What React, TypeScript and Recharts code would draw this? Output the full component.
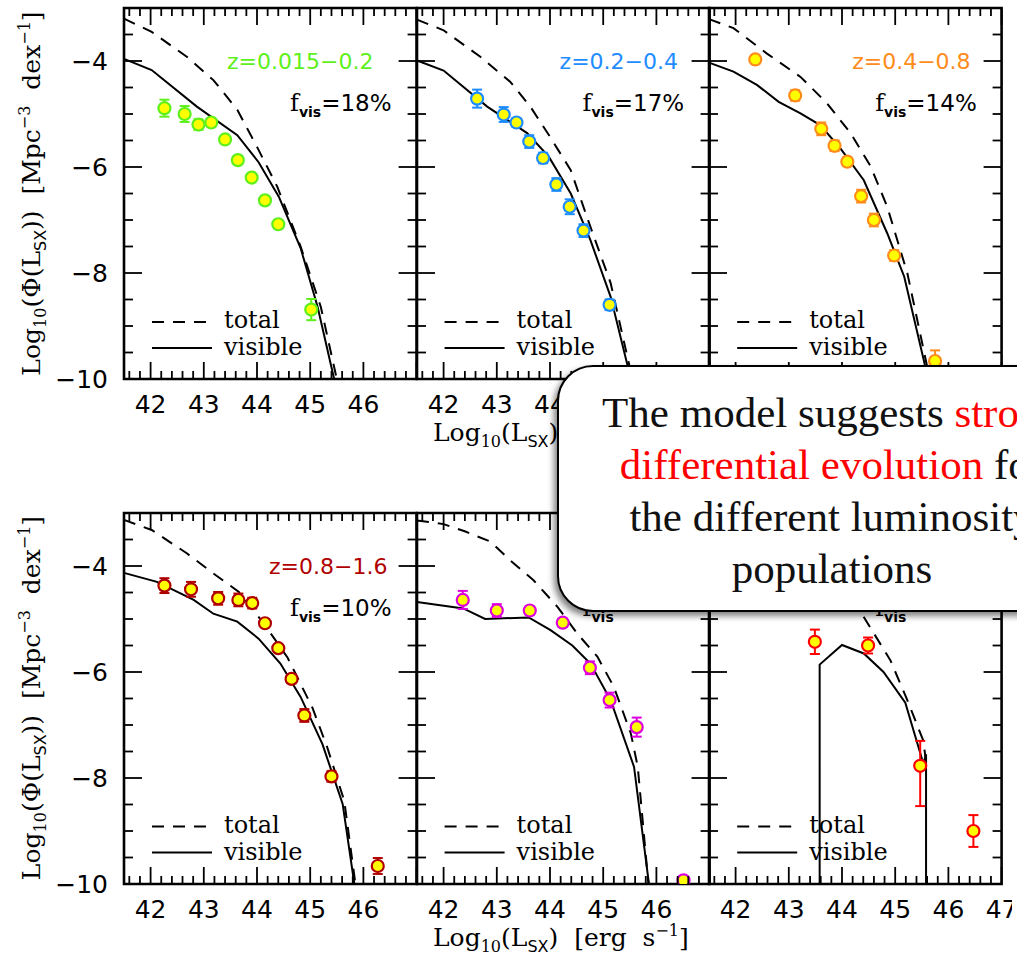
import { ComposedChart, Line, Scatter, ErrorBar, XAxis, YAxis, ReferenceArea } from 'recharts'

type Obs = [number, number, number | [number, number]]
type Pt = [number, number]

// binned luminosity function: [log Lsx, log phi, error (sym or [lower, upper])]
const obsZ1: Obs[] = [
  [42.26, -4.89, 0.16], [42.64, -5.0, 0.15], [42.9, -5.2, 0.1], [43.14, -5.16, 0.06],
  [43.4, -5.48, 0.06], [43.64, -5.87, 0.06], [43.9, -6.2, 0.06], [44.15, -6.63, 0.08],
  [44.4, -7.08, 0.08], [45.02, -8.69, 0.2],
]
const obsZ2: Obs[] = [
  [42.63, -4.71, 0.17], [43.13, -5.01, 0.14], [43.37, -5.16, 0.08], [43.61, -5.52, 0.12],
  [43.87, -5.83, 0.1], [44.12, -6.33, 0.12], [44.37, -6.75, 0.14], [44.63, -7.2, 0.12],
  [45.12, -8.6, 0.1],
]
const obsZ3: Obs[] = [
  [42.37, -3.97, 0.08], [43.12, -4.65, 0.1], [43.61, -5.28, 0.12], [43.86, -5.6, 0.1],
  [44.1, -5.9, 0.08], [44.36, -6.55, 0.12], [44.6, -7.0, 0.12], [44.98, -7.67, 0.1],
  [45.75, -9.66, 0.2],
]
const obsZ4: Obs[] = [
  [42.26, -4.37, 0.14], [42.76, -4.44, 0.14], [43.27, -4.61, 0.12], [43.65, -4.64, 0.12],
  [43.91, -4.7, 0.1], [44.15, -5.08, 0.06], [44.4, -5.55, 0.06], [44.65, -6.13, 0.08],
  [44.89, -6.82, 0.12], [45.4, -7.97, 0.1], [46.27, -9.66, 0.15],
]
const obsZ5: Obs[] = [
  [42.36, -4.64, 0.17], [43.0, -4.84, 0.12], [43.62, -4.84, 0.08], [44.24, -5.07, 0.08],
  [44.75, -5.92, 0.12], [45.12, -6.53, 0.14], [45.63, -7.04, 0.18], [46.51, -9.93, 0.05],
]
const obsZ6: Obs[] = [
  [43.49, -5.43, 0.23], [44.49, -5.5, 0.15], [45.47, -7.77, [0.76, 0.47]], [46.47, -9.0, 0.3],
]

// model curves: total population (dashed) and visible fraction (solid)
const totalZ1: Pt[] = [
  [41.5, -3.2], [42.02, -3.45], [42.68, -3.92], [43.18, -4.36], [43.63, -4.92],
  [44.0, -5.62], [44.38, -6.37], [44.82, -7.5], [45.2, -8.64], [45.5, -10.0],
]
const visibleZ1: Pt[] = [
  [41.5, -3.96], [42.02, -4.17], [42.87, -4.86], [43.63, -5.4], [44.03, -5.91],
  [44.41, -6.56], [44.82, -7.53], [45.14, -8.64], [45.45, -10.0],
]
const totalZ2: Pt[] = [
  [41.5, -3.22], [42.0, -3.42], [42.69, -3.92], [43.25, -4.39], [43.63, -4.86],
  [44.0, -5.43], [44.39, -6.06], [44.76, -7.13], [45.14, -8.19], [45.55, -10.0],
]
const visibleZ2: Pt[] = [
  [41.5, -3.99], [42.0, -4.18], [42.82, -4.86], [43.57, -5.36], [43.98, -5.81],
  [44.39, -6.5], [44.76, -7.38], [45.14, -8.45], [45.52, -10.0],
]
const totalZ3: Pt[] = [
  [41.5, -3.21], [41.96, -3.38], [42.59, -3.86], [43.22, -4.3], [43.72, -4.8],
  [44.16, -5.36], [44.54, -5.99], [44.85, -6.75], [45.23, -8.01], [45.65, -10.0],
]
const visibleZ3: Pt[] = [
  [41.5, -4.03], [41.96, -4.2], [42.4, -4.45], [42.81, -4.77], [43.22, -4.99], [43.59, -5.21],
  [43.97, -5.65], [44.41, -6.25], [44.85, -7.25], [45.17, -8.07], [45.62, -10.0],
]
const totalZ4: Pt[] = [
  [41.5, -3.13], [42.02, -3.32], [42.68, -3.76], [43.18, -4.14], [43.66, -4.49], [44.13, -5.09],
  [44.57, -5.72], [45.04, -6.67], [45.32, -7.42], [45.64, -8.43], [45.85, -10.0],
]
const visibleZ4: Pt[] = [
  [41.5, -4.13], [42.12, -4.3], [42.81, -4.64], [43.18, -4.9], [43.63, -5.05], [44.03, -5.37],
  [44.44, -5.84], [44.82, -6.47], [45.23, -7.36], [45.61, -8.49], [45.83, -10.0],
]
const totalZ5: Pt[] = [
  [41.5, -3.14], [42.0, -3.21], [42.41, -3.35], [42.88, -3.54], [43.25, -3.89], [43.69, -4.27],
  [44.14, -4.77], [44.51, -5.27], [44.89, -5.71], [45.2, -6.28], [45.52, -7.16], [45.65, -7.79],
  [45.85, -10.0],
]
const visibleZ5: Pt[] = [
  [41.5, -4.68], [42.37, -4.8], [42.78, -5.0], [43.6, -4.97], [44.01, -5.21], [44.42, -5.5],
  [44.76, -5.84], [45.14, -6.53], [45.58, -7.79], [45.86, -10.0],
]
const totalZ6: Pt[] = [
  [44.2, -4.62], [44.47, -5.06], [44.91, -5.78], [45.22, -6.51], [45.53, -7.3], [45.58, -7.7],
]
const visibleZ6: Pt[] = [
  [43.58, -10.0], [43.58, -5.86], [44.0, -5.49], [44.41, -5.65], [44.78, -6.0], [45.19, -6.58],
  [45.53, -7.73], [45.58, -7.55], [45.58, -10.0],
]

const zLabels = ['z=0.015−0.2', 'z=0.2−0.4', 'z=0.4−0.8', 'z=0.8−1.6', '', '']
const fvisLabels = ['=18%', '=17%', '=14%', '=10%', '', '']
const yLabels = [-4, -6, -8, -10]
// x tick labels per panel (the top-right ones sit under the note box)
const xLabelsByPanel = [
  [42, 43, 44, 45, 46],
  [42, 43, 44],
  [],
  [42, 43, 44, 45, 46],
  [42, 43, 44, 45, 46],
  [42, 43, 44, 45, 46, 47],
]

const panels = [
  { color: '#5ef01a', obs: obsZ1, total: totalZ1, visible: visibleZ1, zx: 103 },
  { color: '#1e8cff', obs: obsZ2, total: totalZ2, visible: visibleZ2, zx: 143 },
  { color: '#ff8c1a', obs: obsZ3, total: totalZ3, visible: visibleZ3, zx: 143 },
  { color: '#b00000', obs: obsZ4, total: totalZ4, visible: visibleZ4, zx: 145 },
  { color: '#dd00dd', obs: obsZ5, total: totalZ5, visible: visibleZ5, zx: 145 },
  { color: '#ff0000', obs: obsZ6, total: totalZ6, visible: visibleZ6, zx: 145 },
]

const PW = 292.6
const PH = 371
const ML = 110
const MT = 10
const MR = 10
const MB = 70
const ROW_TOP = [8, 512.5]
const COL_LEFT = [124, 124 + PW, 124 + 2 * PW]

const SANS = 'DejaVu Sans, sans-serif'
const SERIF = 'DejaVu Serif, serif'

const xTicks = Array.from({ length: 28 }, (_, i) => Math.round((41.6 + 0.2 * i) * 10) / 10)
const yTicks = Array.from({ length: 14 }, (_, i) => -10 + 0.5 * i)
const isWhole = (v: number, step: number) => Math.abs(v / step - Math.round(v / step)) < 1e-6

function XTick(props: any) {
  const { x, y, payload, labels } = props
  const v = payload.value as number
  const major = isWhole(v, 1)
  const len = major ? 17 : 8
  return (
    <g>
      <line x1={x} x2={x} y1={y} y2={y - len} stroke="#000" strokeWidth={1.8} />
      <line x1={x} x2={x} y1={y - PH} y2={y - PH + len} stroke="#000" strokeWidth={1.8} />
      {major && labels.includes(Math.round(v)) && (
        <text x={x} y={y + 34} textAnchor="middle" fontFamily={SANS} fontSize={25} fill="#000">
          {Math.round(v)}
        </text>
      )}
    </g>
  )
}

function YTick(props: any) {
  const { x, y, payload, showLabel } = props
  const v = payload.value as number
  const major = isWhole(v, 2)
  const len = major ? 18 : 9
  return (
    <g>
      <line x1={x} x2={x + len} y1={y} y2={y} stroke="#000" strokeWidth={1.8} />
      <line x1={x + PW} x2={x + PW - len} y1={y} y2={y} stroke="#000" strokeWidth={1.8} />
      {showLabel && yLabels.includes(v) && (
        <text x={x - 16} y={y + 9} textAnchor="end" fontFamily={SANS} fontSize={25} fill="#000">
          {`−${Math.abs(v)}`}
        </text>
      )}
    </g>
  )
}

function Panel({ idx }: { idx: number }) {
  const p = panels[idx]
  const col = idx % 3
  const row = Math.floor(idx / 3)
  const obs = p.obs.map(([x, y, err]) => ({ x, y, err }))
  const total = p.total.map(([x, y]) => ({ x, y }))
  const visible = p.visible.map(([x, y]) => ({ x, y }))
  return (
    <div style={{ position: 'absolute', left: COL_LEFT[col] - ML, top: ROW_TOP[row] - MT }}>
      <ComposedChart
        width={PW + ML + MR}
        height={PH + MT + MB}
        margin={{ top: MT, right: MR, left: 0, bottom: 0 }}
      >
        <XAxis
          type="number"
          dataKey="x"
          domain={[41.5, 47]}
          ticks={xTicks}
          interval={0}
          allowDataOverflow
          axisLine={false}
          tickLine={false}
          tickSize={0}
          tickMargin={0}
          height={MB}
          tick={(t: any) => <XTick {...t} labels={xLabelsByPanel[idx]} />}
        />
        <YAxis
          type="number"
          dataKey="y"
          domain={[-10, -3]}
          ticks={yTicks}
          interval={0}
          allowDataOverflow
          axisLine={false}
          tickLine={false}
          tickSize={0}
          tickMargin={0}
          width={ML}
          tick={(t: any) => <YTick {...t} showLabel={col === 0} />}
        />
        <Line
          data={total}
          dataKey="y"
          type="linear"
          stroke="#000"
          strokeWidth={2}
          strokeDasharray="12 9"
          dot={false}
          isAnimationActive={false}
        />
        <Line
          data={visible}
          dataKey="y"
          type="linear"
          stroke="#000"
          strokeWidth={2}
          dot={false}
          isAnimationActive={false}
        />
        <Scatter
          data={obs}
          dataKey="y"
          isAnimationActive={false}
          shape={(s: any) => (
            <circle cx={s.cx} cy={s.cy} r={6} fill="#ffff00" stroke={p.color} strokeWidth={2.2} />
          )}
        >
          <ErrorBar dataKey="err" direction="y" width={5} stroke={p.color} strokeWidth={2} />
        </Scatter>
        <ReferenceArea
          x1={41.5}
          x2={47}
          y1={-10}
          y2={-3}
          fill="none"
          fillOpacity={0}
          stroke="#000"
          strokeWidth={2.6}
          ifOverflow="visible"
        />
      </ComposedChart>
    </div>
  )
}

function PanelText({ idx }: { idx: number }) {
  const col = idx % 3
  const row = Math.floor(idx / 3)
  const L = COL_LEFT[col]
  const T = ROW_TOP[row]
  return (
    <g>
      {zLabels[idx] && (
        <text x={L + panels[idx].zx} y={T + 61} fontFamily={SANS} fontSize={22} fill={panels[idx].color}>
          {zLabels[idx]}
        </text>
      )}
      <text x={L + 166} y={T + 103} fontFamily={SERIF} fontSize={24} fill="#000">
        f
        <tspan dy={6} fontFamily={SANS} fontWeight="bold" fontSize={14}>vis</tspan>
        <tspan dy={-6} fontFamily={SANS} fontSize={23}>{fvisLabels[idx]}</tspan>
      </text>
      <line x1={L + 28} x2={L + 88} y1={T + 314} y2={T + 314} stroke="#000" strokeWidth={2} strokeDasharray="12 9" />
      <text x={L + 100} y={T + 320} fontFamily={SERIF} fontSize={24} fill="#000">total</text>
      <line x1={L + 28} x2={L + 88} y1={T + 340} y2={T + 340} stroke="#000" strokeWidth={2} />
      <text x={L + 100} y={T + 347} fontFamily={SERIF} fontSize={24} fill="#000">visible</text>
    </g>
  )
}

function AxisTitles() {
  return (
    <g fontFamily={SERIF} fill="#000">
      {ROW_TOP.map((T) => (
        <g key={T}>
          <text
            x={40}
            y={T + PH / 2}
            fontSize={25}
            textAnchor="middle"
            transform={`rotate(-90, 40, ${T + PH / 2})`}
          >
            Log
            <tspan dy={6} fontSize={16}>10</tspan>
            <tspan dy={-6}>(Φ(L</tspan>
            <tspan dy={6} fontSize={16} fontFamily={SANS}>SX</tspan>
            <tspan dy={-6}>{'))\u00a0\u00a0[Mpc'}</tspan>
            <tspan dy={-10} fontSize={16}>−3</tspan>
            <tspan dy={10}>{'\u00a0\u00a0dex'}</tspan>
            <tspan dy={-10} fontSize={16}>−1</tspan>
            <tspan dy={10}>]</tspan>
          </text>
          <text x={433} y={T + PH + 62} fontSize={25}>
            Log
            <tspan dy={6} fontSize={16}>10</tspan>
            <tspan dy={-6}>(L</tspan>
            <tspan dy={6} fontSize={16} fontFamily={SANS}>SX</tspan>
            <tspan dy={-6}>{')\u00a0\u00a0[erg\u00a0\u00a0s'}</tspan>
            <tspan dy={-10} fontSize={16}>−1</tspan>
            <tspan dy={10}>]</tspan>
          </text>
        </g>
      ))}
    </g>
  )
}

export default function App() {
  return (
    <div style={{ position: 'absolute', left: 0, top: 0, width: 1017, height: 962, background: '#fff', overflow: 'hidden' }}>
      {panels.map((_, i) => (
        <Panel key={i} idx={i} />
      ))}
      <svg
        width={1017}
        height={962}
        style={{ position: 'absolute', left: 0, top: 0, pointerEvents: 'none' }}
      >
        {panels.map((_, i) => (
          <PanelText key={i} idx={i} />
        ))}
        <AxisTitles />
      </svg>
      <div
        style={{
          position: 'absolute',
          left: 557,
          top: 365,
          width: 550,
          height: 247,
          boxSizing: 'border-box',
          border: '2.5px solid #000',
          borderRadius: 36,
          background: '#fff',
          boxShadow: '-3px 4px 6px rgba(0,0,0,0.5)',
          paddingTop: 20,
          textAlign: 'center',
          fontFamily: 'Liberation Serif, serif',
          fontSize: 43,
          lineHeight: '52px',
          color: '#111',
        }}
      >
        The model suggests <span style={{ color: '#ff0000' }}>strong</span>
        <br />
        <span style={{ color: '#ff0000' }}>differential evolution</span> for
        <br />
        the different luminosity
        <br />
        populations
      </div>
    </div>
  )
}
